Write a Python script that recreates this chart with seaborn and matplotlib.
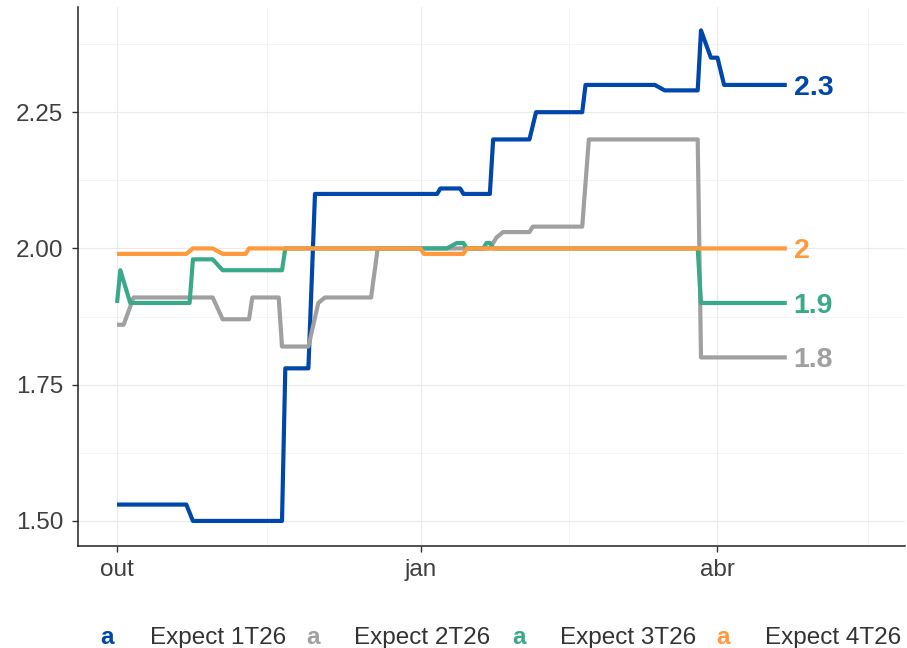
import matplotlib
matplotlib.use("Agg")
import matplotlib.pyplot as plt
import matplotlib.dates as mdates
from matplotlib.ticker import FixedLocator, FixedFormatter
import seaborn as sns
import pandas as pd

# ---------------- data ----------------
series_names = ["Expect 1T26", "Expect 2T26", "Expect 3T26", "Expect 4T26"]
series_colors = ["#0047AB", "#A0A0A0", "#3AA98A", "#FF993B"]

t1_dates = ["2025-10-01", "2025-10-22", "2025-10-24", "2025-11-20", "2025-11-21",
            "2025-11-28", "2025-11-30", "2026-01-06", "2026-01-07", "2026-01-13",
            "2026-01-14", "2026-01-22", "2026-01-23", "2026-02-03", "2026-02-05",
            "2026-02-19", "2026-02-20", "2026-03-13", "2026-03-16", "2026-03-26",
            "2026-03-27", "2026-03-30", "2026-04-01", "2026-04-03", "2026-04-22"]
t1_vals = [1.53, 1.53, 1.50, 1.50, 1.78,
           1.78, 2.10, 2.10, 2.11, 2.11,
           2.10, 2.10, 2.20, 2.20, 2.25,
           2.25, 2.30, 2.30, 2.29, 2.29,
           2.40, 2.35, 2.35, 2.30, 2.30]

t2_dates = ["2025-10-01", "2025-10-03", "2025-10-06", "2025-10-30", "2025-11-02",
            "2025-11-10", "2025-11-11", "2025-11-19", "2025-11-20", "2025-11-28",
            "2025-12-01", "2025-12-03", "2025-12-17", "2025-12-19", "2026-01-22",
            "2026-01-24", "2026-01-26", "2026-02-03", "2026-02-04", "2026-02-19",
            "2026-02-21", "2026-03-26", "2026-03-27", "2026-04-22"]
t2_vals = [1.86, 1.86, 1.91, 1.91, 1.87,
           1.87, 1.91, 1.91, 1.82, 1.82,
           1.90, 1.91, 1.91, 2.00, 2.00,
           2.02, 2.03, 2.03, 2.04, 2.04,
           2.20, 2.20, 1.80, 1.80]

t3_dates = ["2025-10-01", "2025-10-02", "2025-10-05", "2025-10-23", "2025-10-24",
            "2025-10-30", "2025-11-02", "2025-11-20", "2025-11-21", "2026-01-09",
            "2026-01-12", "2026-01-14", "2026-01-15", "2026-01-20", "2026-01-21",
            "2026-01-22", "2026-01-23", "2026-03-26", "2026-03-27", "2026-04-22"]
t3_vals = [1.90, 1.96, 1.90, 1.90, 1.98,
           1.98, 1.96, 1.96, 2.00, 2.00,
           2.01, 2.01, 2.00, 2.00, 2.01,
           2.01, 2.00, 2.00, 1.90, 1.90]

t4_dates = ["2025-10-01", "2025-10-22", "2025-10-24", "2025-10-30", "2025-11-02",
            "2025-11-09", "2025-11-10", "2026-01-01", "2026-01-02", "2026-01-14",
            "2026-01-15", "2026-04-22"]
t4_vals = [1.99, 1.99, 2.00, 2.00, 1.99,
           1.99, 2.00, 2.00, 1.99, 1.99,
           2.00, 2.00]

month_ticks = ["2025-10-01", "2026-01-01", "2026-04-01"]
month_labels = ["out", "jan", "abr"]
month_minor = ["2025-11-15 12:00", "2026-02-15 00:00", "2026-05-16 12:00"]
y_ticks = [1.50, 1.75, 2.00, 2.25]
y_minor = [1.625, 1.875, 2.125, 2.375]

# ---------------- table ----------------
frames = []
for name, d, v in zip(series_names,
                      [t1_dates, t2_dates, t3_dates, t4_dates],
                      [t1_vals, t2_vals, t3_vals, t4_vals]):
    frames.append(pd.DataFrame({"date": pd.to_datetime(d), "value": v, "series": name}))
df = pd.concat(frames, ignore_index=True)

# ---------------- plot ----------------
sns.set_theme(style="white")
plt.rcParams["font.family"] = ["Liberation Sans", "DejaVu Sans"]

W, H = 907, 648
fig = plt.figure(figsize=(W / 100, H / 100), dpi=100)
ax = fig.add_axes([78 / W, 1 - 546 / H, (905 - 78) / W, (546 - 7) / H])

sns.lineplot(data=df, x="date", y="value", hue="series", hue_order=series_names,
             palette=series_colors, estimator=None, sort=False, linewidth=3.0,
             legend=False, ax=ax, solid_capstyle="butt", solid_joinstyle="round")

ax.set_xlim(pd.Timestamp("2025-09-19 04:00"), pd.Timestamp("2026-05-27 20:00"))
ax.set_ylim(1.454, 2.443)

ax.xaxis.set_major_locator(FixedLocator(mdates.date2num(pd.to_datetime(month_ticks))))
ax.xaxis.set_major_formatter(FixedFormatter(month_labels))
ax.xaxis.set_minor_locator(FixedLocator(mdates.date2num(pd.to_datetime(month_minor))))
ax.yaxis.set_major_locator(FixedLocator(y_ticks))
ax.yaxis.set_major_formatter(FixedFormatter([f"{t:.2f}" for t in y_ticks]))
ax.yaxis.set_minor_locator(FixedLocator(y_minor))

ax.grid(True, which="major", color="#EAEAEA", linewidth=0.8)
ax.grid(True, which="minor", color="#F3F3F3", linewidth=0.6)
ax.set_axisbelow(True)

for s in ["top", "right"]:
    ax.spines[s].set_visible(False)
for s in ["left", "bottom"]:
    ax.spines[s].set_color("#222222")
    ax.spines[s].set_linewidth(1.1)

ax.tick_params(axis="both", which="major", length=4.2, width=1.0, color="#333333",
               labelsize=17.5, labelcolor="#3F3F3F", direction="out",
               bottom=True, left=True)
ax.tick_params(axis="y", which="major", pad=6.5)
ax.tick_params(axis="x", which="major", pad=5.5)
ax.tick_params(axis="both", which="minor", length=0)
ax.set_xlabel("")
ax.set_ylabel("")

# end labels
for name, d, v, c in zip(series_names,
                         [t1_dates, t2_dates, t3_dates, t4_dates],
                         [t1_vals, t2_vals, t3_vals, t4_vals], series_colors):
    ax.annotate(f"{v[-1]:g}", xy=(pd.Timestamp(d[-1]), v[-1]), xytext=(5, 0),
                textcoords="offset points", ha="left", va="center_baseline",
                fontsize=20.5, fontweight="bold", color=c)

# legend (ggplot style with text keys)
key_x = [100, 306, 512, 716]
lab_x = [150, 354, 560, 765]
base_y = 1 - 644 / H
for kx, lx, name, c in zip(key_x, lab_x, series_names, series_colors):
    fig.text(kx / W, base_y, "a", color=c, fontsize=17.5, fontweight="bold",
             ha="left", va="baseline")
    fig.text(lx / W, base_y, name, color="#333333", fontsize=17.5,
             ha="left", va="baseline")

fig.savefig("out.png", dpi=100)
